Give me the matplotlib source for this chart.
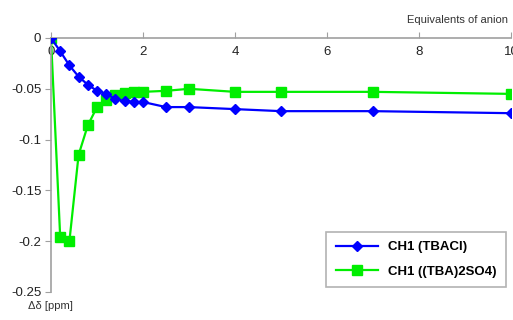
import matplotlib.pyplot as plt

plt.rcParams['font.family'] = ['Liberation Sans', 'DejaVu Sans']

# ── Data ──
equiv = [0, 0.2, 0.4, 0.6, 0.8, 1.0, 1.2, 1.4, 1.6, 1.8, 2.0, 2.5, 3, 4, 5, 7, 10]
ch1_tbacl = [0, -0.013, -0.027, -0.038, -0.046, -0.052, -0.055, -0.060, -0.062,
             -0.063, -0.063, -0.068, -0.068, -0.070, -0.072, -0.072, -0.074]
ch1_tba2so4 = [0, -0.196, -0.200, -0.115, -0.086, -0.068, -0.061, -0.056, -0.054,
               -0.053, -0.053, -0.052, -0.050, -0.053, -0.053, -0.053, -0.055]
x_ticks = [0, 2, 4, 6, 8, 10]
y_ticks = [0, -0.05, -0.1, -0.15, -0.2, -0.25]
y_labels = ["0", "-0.05", "-0.1", "-0.15", "-0.2", "-0.25"]

fig = plt.figure(figsize=(5.13, 3.2), dpi=100)
ax = fig.add_axes([51 / 513, 1 - 292 / 320, 460 / 513, (292 - 38) / 320])

ax.plot(equiv, ch1_tbacl, color="#0000ff", lw=1.6, marker="D", ms=5,
        label="CH1 (TBACl)", zorder=3)
ax.plot(equiv, ch1_tba2so4, color="#00ee00", lw=1.6, marker="s", ms=6.5,
        label="CH1 ((TBA)2SO4)", zorder=2)

ax.set_xlim(0, 10)
ax.set_ylim(-0.25, 0)

axis_gray = "#a0a0a0"
ax.spines["top"].set_visible(False)
ax.spines["right"].set_visible(False)
ax.spines["bottom"].set_position(("data", 0))
for s in ("bottom", "left"):
    ax.spines[s].set_color(axis_gray)
    ax.spines[s].set_linewidth(1.2)

ax.set_xticks(x_ticks)
ax.set_yticks(y_ticks)
ax.set_yticklabels(y_labels)
ax.tick_params(axis="x", direction="in", length=4, color=axis_gray, pad=6,
               labelsize=9.5, labelcolor="#222222")
ax.tick_params(axis="y", direction="out", length=4, color=axis_gray, pad=3,
               labelsize=9.5, labelcolor="#222222")

fig.text(508 / 513, 1 - 20 / 320, "Equivalents of anion", ha="right", va="center",
         fontsize=8, color="#333333")
fig.text(50 / 513, 1 - 306 / 320, "Δδ [ppm]", ha="center", va="center",
         fontsize=8, color="#333333")

leg = ax.legend(loc="lower right", bbox_to_anchor=(0.995, 0.01), frameon=True,
                fancybox=False, edgecolor=axis_gray, prop={"weight": "bold", "size": 9.5},
                handlelength=3.2, borderpad=0.7, labelspacing=0.9, borderaxespad=0.2)
leg.get_frame().set_linewidth(1.2)

fig.savefig("out.png", dpi=100)
